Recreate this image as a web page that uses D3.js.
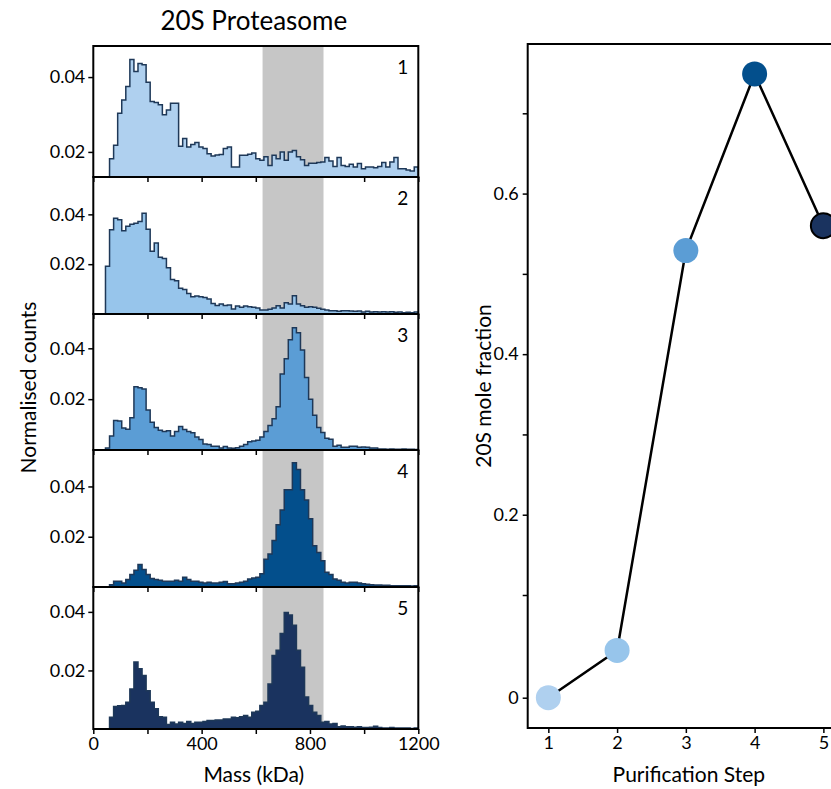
<!DOCTYPE html>
<html>
<head>
<meta charset="utf-8">
<script src="https://cdn.jsdelivr.net/npm/d3@7"></script>
<style>
  html, body { margin: 0; padding: 0; background: #fff; }
  svg { display: block; }
  text { font-family: Lato, "Open Sans", sans-serif; fill: #000; }
</style>
</head>
<body>
<svg id="fig" width="831" height="789"></svg>
<script>
// ---- data -------------------------------------------------------------
// Mass histograms (normalised counts), 15 kDa bins starting at 0 kDa
const binWidth = 15;
const massMax = 1200;
const step1 = [0,0,0,0,0.0182,0.0218,0.0303,0.0339,0.0375,0.0447,0.0415,0.0436,0.0433,0.0386,0.0335,0.0332,0.0326,0.0299,0.0312,0.0330,0.0330,0.0215,0.0236,0.0213,0.0220,0.0225,0.0213,0.0209,0.0195,0.0189,0.0192,0.0193,0.0209,0.0213,0.0160,0.0160,0.0191,0.0191,0.0194,0.0197,0.0182,0.0178,0.0187,0.0164,0.0191,0.0182,0.0200,0.0178,0.0200,0.0204,0.0187,0.0179,0.0164,0.0170,0.0170,0.0172,0.0173,0.0185,0.0176,0.0161,0.0185,0.0164,0.0161,0.0167,0.0160,0.0169,0.0155,0.0160,0.0160,0.0158,0.0161,0.0172,0.0160,0.0173,0.0185,0.0155,0.0155,0.0152,0.0149,0.0160];
const step2 = [0,0,0,0.0192,0.0338,0.0384,0.0378,0.0334,0.0352,0.0360,0.0364,0.0371,0.0404,0.0340,0.0252,0.0285,0.0228,0.0223,0.0186,0.0139,0.0133,0.0103,0.0098,0.0082,0.0069,0.0072,0.0069,0.0066,0.0060,0.0042,0.0034,0.0040,0.0034,0.0036,0.0020,0.0032,0.0027,0.0032,0.0029,0.0027,0.0024,0.0016,0.0016,0.0019,0.0024,0.0033,0.0024,0.0045,0.0040,0.0073,0.0040,0.0033,0.0027,0.0029,0.0027,0.0023,0.0019,0.0016,0.0013,0.0013,0.0011,0.0013,0.0013,0.0012,0.0011,0.0012,0.0008,0.0011,0.0008,0.0009,0.0008,0.0009,0.0008,0.0009,0.0007,0.0008,0.0005,0.0007,0.0005,0.0008];
const step3 = [0,0,0,0.0008,0.0055,0.0116,0.0114,0.0087,0.0082,0.0127,0.0249,0.0245,0.0240,0.0157,0.0109,0.0089,0.0078,0.0073,0.0076,0.0055,0.0073,0.0092,0.0081,0.0073,0.0068,0.0051,0.0041,0.0024,0.0022,0.0015,0.0015,0.0008,0.0014,0.0008,0.0007,0.0009,0.0015,0.0022,0.0032,0.0035,0.0038,0.0051,0.0073,0.0096,0.0123,0.0170,0.0299,0.0359,0.0434,0.0481,0.0461,0.0393,0.0285,0.0200,0.0137,0.0089,0.0069,0.0046,0.0042,0.0015,0.0019,0.0011,0.0011,0.0015,0.0015,0.0011,0.0012,0.0011,0.0008,0.0008,0.0004,0.0004,0.0003,0.0004,0.0003,0.0003,0.0004,0.0003,0.0003,0.0002];
const step4 = [0,0,0,0,0.0009,0.0023,0.0023,0.0016,0.0030,0.0050,0.0067,0.0090,0.0070,0.0050,0.0034,0.0030,0.0027,0.0023,0.0023,0.0023,0.0027,0.0023,0.0039,0.0030,0.0023,0.0023,0.0019,0.0016,0.0019,0.0016,0.0016,0.0019,0.0022,0.0013,0.0013,0.0016,0.0019,0.0023,0.0032,0.0036,0.0039,0.0053,0.0110,0.0131,0.0185,0.0248,0.0306,0.0387,0.0387,0.0494,0.0467,0.0387,0.0346,0.0272,0.0164,0.0137,0.0104,0.0059,0.0050,0.0032,0.0027,0.0019,0.0016,0.0019,0.0019,0.0016,0.0013,0.0011,0.0009,0.0008,0.0008,0.0007,0.0007,0.0005,0.0005,0.0005,0.0005,0.0005,0.0004,0.0005];
const step5 = [0,0,0,0,0.0040,0.0077,0.0079,0.0080,0.0091,0.0137,0.0229,0.0206,0.0183,0.0131,0.0091,0.0069,0.0042,0.0040,0.0015,0.0023,0.0017,0.0023,0.0019,0.0026,0.0019,0.0023,0.0023,0.0026,0.0029,0.0029,0.0031,0.0031,0.0034,0.0034,0.0040,0.0038,0.0042,0.0046,0.0040,0.0057,0.0061,0.0080,0.0091,0.0154,0.0251,0.0269,0.0326,0.0398,0.0389,0.0354,0.0269,0.0211,0.0109,0.0080,0.0057,0.0046,0.0023,0.0026,0.0017,0.0019,0.0008,0.0010,0.0008,0.0008,0.0006,0.0008,0.0005,0.0005,0.0006,0.0009,0.0005,0.0003,0.0003,0.0005,0.0003,0.0003,0.0003,0.0003,0.0002,0.0003];
const histograms = [step1, step2, step3, step4, step5];
const panelLabels = ["1", "2", "3", "4", "5"];

// 20S mass window highlighted on every histogram (kDa)
const window20S = [625, 850];

// 20S mole fraction after each purification step
const steps = [1, 2, 3, 4, 5];
const moleFraction = [0, 0.046, 0.529, 0.749, 0.56];

// tick values
const massTicks = [0, 200, 400, 600, 800, 1000, 1200];
const massTickLabels = ["0", "", "400", "", "800", "", "1200"];
const countTicks = [0.02, 0.04];
const fractionTicks = [0, 0.1, 0.2, 0.3, 0.4, 0.5, 0.6, 0.7];
const fractionTickLabels = ["0", "", "0.2", "", "0.4", "", "0.6", ""];

// ---- styling ------------------------------------------------------------
const stepColors = ["#afd0ef", "#97c5eb", "#5b9dd5", "#034f8c", "#1a335f"];
const outlineColor = "#1e3858";
const bandColor = "#c6c6c6";
const tickFont = "18px";
const labelFont = "21px";

const svg = d3.select("#fig");

// ---- left: stacked histograms --------------------------------------------
const left = { x0: 93.3, x1: 418.3 };
const panelEdges = [46, 177, 314, 450, 587, 729];
const yDomains = [[0.0133, 0.0483], [0, 0.055], [0, 0.0535], [0, 0.0545], [0, 0.0485]];

const x = d3.scaleLinear().domain([0, massMax]).range([left.x0, left.x1]);

histograms.forEach((vals, p) => {
  const top = panelEdges[p], bottom = panelEdges[p + 1];
  const y = d3.scaleLinear().domain(yDomains[p]).range([bottom, top]);
  const g = svg.append("g");

  const clipId = "clip" + p;
  svg.append("clipPath").attr("id", clipId)
    .append("rect").attr("x", left.x0).attr("y", top)
    .attr("width", left.x1 - left.x0).attr("height", bottom - top);

  const plot = g.append("g").attr("clip-path", `url(#${clipId})`);

  // highlighted mass window
  plot.append("rect")
    .attr("x", x(window20S[0])).attr("y", top)
    .attr("width", x(window20S[1]) - x(window20S[0]))
    .attr("height", bottom - top)
    .attr("fill", bandColor);

  // step outline points
  const pts = [[0, 0]];
  vals.forEach((v, i) => {
    pts.push([i * binWidth, v]);
    pts.push([(i + 1) * binWidth, v]);
  });
  pts.push([massMax, 0]);

  const area = d3.area()
    .x(d => x(d[0])).y0(y(0)).y1(d => y(d[1]));
  const line = d3.line().x(d => x(d[0])).y(d => y(d[1]));

  plot.append("path").attr("d", area(pts)).attr("fill", stepColors[p]);
  plot.append("path").attr("d", line(pts))
    .attr("fill", "none").attr("stroke", outlineColor)
    .attr("stroke-width", 1.5).attr("stroke-linejoin", "miter");

  // y axis
  const yAxis = d3.axisLeft(y).tickValues(countTicks)
    .tickFormat(d3.format(".2f")).tickSize(5).tickPadding(3);
  const ya = g.append("g").attr("transform", `translate(${left.x0},0)`).call(yAxis);
  ya.select(".domain").remove();
  ya.selectAll("line").attr("stroke", "#000").attr("stroke-width", 1.5);
  ya.selectAll("text").style("font-size", tickFont).style("font-family", "Lato, sans-serif");

  // x axis (ticks below each panel, labels on the last one)
  const last = p === histograms.length - 1;
  const xAxis = d3.axisBottom(x).tickValues(massTicks)
    .tickFormat((d, i) => last ? massTickLabels[i] : "")
    .tickSize(5).tickPadding(3);
  const xa = g.append("g").attr("transform", `translate(0,${bottom})`).call(xAxis);
  xa.select(".domain").remove();
  xa.selectAll("line").attr("stroke", "#000").attr("stroke-width", 1.5);
  xa.selectAll("text").style("font-size", tickFont).style("font-family", "Lato, sans-serif");

  // frame
  g.append("rect")
    .attr("x", left.x0).attr("y", top)
    .attr("width", left.x1 - left.x0).attr("height", bottom - top)
    .attr("fill", "none").attr("stroke", "#000").attr("stroke-width", 2);

  // panel number
  g.append("text")
    .attr("x", left.x1 - 10).attr("y", top + 28)
    .attr("text-anchor", "end")
    .style("font-size", "19px")
    .text(panelLabels[p]);
});

svg.append("text")
  .attr("x", (left.x0 + left.x1) / 2 - 2).attr("y", 30)
  .attr("text-anchor", "middle").style("font-size", "26px")
  .text("20S Proteasome");

svg.append("text")
  .attr("transform", `translate(36,${(panelEdges[0] + panelEdges[5]) / 2}) rotate(-90)`)
  .attr("text-anchor", "middle").style("font-size", labelFont)
  .text("Normalised counts");

svg.append("text")
  .attr("x", (left.x0 + left.x1) / 2 - 2).attr("y", 782)
  .attr("text-anchor", "middle").style("font-size", labelFont)
  .text("Mass (kDa)");

// ---- right: 20S mole fraction per purification step ----------------------
const right = { x0: 527.7, x1: 844, y0: 44, y1: 728 };
const xs = d3.scaleLinear().domain([0.7, 5.3]).range([right.x0, right.x1]);
// the fraction axis is compressed between 0 and 0.1
const ys = d3.scaleLinear().domain([0, 0.1, 0.7]).range([697.7, 595, 113.3]);

const rg = svg.append("g");

const yAxisR = d3.axisLeft(ys).tickValues(fractionTicks)
  .tickFormat((d, i) => fractionTickLabels[i]).tickSize(5).tickPadding(4);
const yra = rg.append("g").attr("transform", `translate(${right.x0},0)`).call(yAxisR);
yra.select(".domain").remove();
yra.selectAll("line").attr("stroke", "#000").attr("stroke-width", 1.5);
yra.selectAll("text").style("font-size", tickFont).style("font-family", "Lato, sans-serif");

const xAxisR = d3.axisBottom(xs).tickValues(steps).tickFormat(d3.format("d"))
  .tickSize(5).tickPadding(3);
const xra = rg.append("g").attr("transform", `translate(0,${right.y1})`).call(xAxisR);
xra.select(".domain").remove();
xra.selectAll("line").attr("stroke", "#000").attr("stroke-width", 1.5);
xra.selectAll("text").style("font-size", tickFont).style("font-family", "Lato, sans-serif");

rg.append("rect")
  .attr("x", right.x0).attr("y", right.y0)
  .attr("width", right.x1 - right.x0).attr("height", right.y1 - right.y0)
  .attr("fill", "none").attr("stroke", "#000").attr("stroke-width", 2);

const pointsR = steps.map((s, i) => ({ s, v: moleFraction[i], c: stepColors[i], i }));

rg.append("path")
  .datum(pointsR)
  .attr("d", d3.line().x(d => xs(d.s)).y(d => ys(d.v)))
  .attr("fill", "none").attr("stroke", "#000").attr("stroke-width", 2.5);

rg.selectAll("circle.step").data(pointsR).join("circle")
  .attr("class", "step")
  .attr("cx", d => xs(d.s)).attr("cy", d => ys(d.v)).attr("r", 12.5)
  .attr("fill", d => d.c)
  .attr("stroke", d => d.i === 4 ? "#000" : "none")
  .attr("stroke-width", 2);

svg.append("text")
  .attr("transform", `translate(491,${(right.y0 + right.y1) / 2}) rotate(-90)`)
  .attr("text-anchor", "middle").style("font-size", labelFont)
  .text("20S mole fraction");

svg.append("text")
  .attr("x", xs(3) + 3).attr("y", 782)
  .attr("text-anchor", "middle").style("font-size", labelFont)
  .text("Purification Step");
</script>
</body>
</html>
